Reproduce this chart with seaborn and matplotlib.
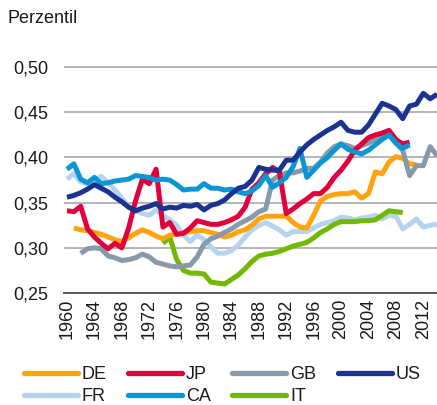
import numpy as np
import pandas as pd
import matplotlib
matplotlib.use("Agg")
import matplotlib.pyplot as plt
import seaborn as sns
from matplotlib.ticker import FuncFormatter, FixedLocator
from matplotlib.lines import Line2D

# ---------------- data ----------------
countries = ["DE", "JP", "GB", "US", "FR", "CA", "IT"]
start_years = {"DE": 1961, "JP": 1960, "GB": 1962, "US": 1960, "FR": 1960, "CA": 1960, "IT": 1974}

de_values = [0.322, 0.320, 0.319, 0.317, 0.315, 0.312, 0.309, 0.307, 0.311,
             0.316, 0.320, 0.317, 0.313, 0.310, 0.314, 0.315, 0.317, 0.318, 0.319,
             0.319, 0.317, 0.315, 0.312, 0.314, 0.318, 0.320, 0.325, 0.332, 0.335,
             0.335, 0.335, 0.335, 0.328, 0.323, 0.322, 0.336, 0.352, 0.357, 0.359,
             0.360, 0.360, 0.362, 0.355, 0.360, 0.384, 0.382, 0.395, 0.401, 0.399,
             0.393, 0.392]
jp_values = [0.341, 0.340, 0.346, 0.321, 0.312, 0.305, 0.299, 0.305, 0.300, 0.322,
             0.352, 0.376, 0.371, 0.387, 0.323, 0.328, 0.315, 0.316, 0.322, 0.330,
             0.328, 0.326, 0.326, 0.328, 0.331, 0.335, 0.345, 0.365, 0.372, 0.382,
             0.389, 0.384, 0.338, 0.343, 0.349, 0.354, 0.360, 0.360, 0.367, 0.378,
             0.386, 0.396, 0.408, 0.415, 0.422, 0.425, 0.427, 0.430, 0.420, 0.415,
             0.417]
gb_values = [0.294, 0.299, 0.300, 0.299, 0.291, 0.289, 0.286, 0.287,
             0.289, 0.293, 0.290, 0.284, 0.282, 0.280, 0.279, 0.280, 0.281, 0.290,
             0.304, 0.310, 0.313, 0.317, 0.321, 0.326, 0.330, 0.334, 0.340, 0.343,
             0.375, 0.380, 0.383, 0.383, 0.385, 0.388, 0.388, 0.395, 0.405, 0.412,
             0.415, 0.413, 0.410, 0.413, 0.416, 0.420, 0.423, 0.425, 0.416, 0.408,
             0.380, 0.391, 0.391, 0.412, 0.402]
us_values = [0.356, 0.358, 0.361, 0.365, 0.370, 0.366, 0.362, 0.356, 0.351, 0.345,
             0.341, 0.344, 0.346, 0.349, 0.343, 0.345, 0.344, 0.347, 0.346, 0.348,
             0.342, 0.347, 0.349, 0.353, 0.360, 0.366, 0.368, 0.375, 0.389, 0.387,
             0.386, 0.386, 0.397, 0.397, 0.406, 0.414, 0.420, 0.425, 0.430, 0.434,
             0.439, 0.430, 0.428, 0.428, 0.436, 0.448, 0.460, 0.457, 0.453, 0.443,
             0.457, 0.459, 0.471, 0.465, 0.470]
fr_values = [0.376, 0.382, 0.373, 0.371, 0.375, 0.379, 0.372, 0.364, 0.355, 0.346,
             0.341, 0.338, 0.336, 0.342, 0.336, 0.331, 0.325, 0.314, 0.307, 0.314,
             0.309, 0.301, 0.294, 0.294, 0.297, 0.303, 0.312, 0.320, 0.325, 0.328,
             0.324, 0.320, 0.314, 0.318, 0.318, 0.318, 0.322, 0.326, 0.328, 0.330,
             0.334, 0.333, 0.331, 0.333, 0.334, 0.336, 0.332, 0.336, 0.335, 0.321,
             0.326, 0.332, 0.323, 0.325, 0.326]
ca_values = [0.387, 0.393, 0.376, 0.372, 0.378, 0.371, 0.372, 0.374, 0.375, 0.376,
             0.380, 0.379, 0.378, 0.375, 0.376, 0.375, 0.370, 0.364, 0.365, 0.365,
             0.371, 0.366, 0.366, 0.364, 0.365, 0.362, 0.360, 0.363, 0.369, 0.380,
             0.367, 0.372, 0.378, 0.390, 0.410, 0.378, 0.386, 0.394, 0.400, 0.408,
             0.415, 0.409, 0.406, 0.404, 0.408, 0.414, 0.420, 0.425, 0.416, 0.410,
             0.414]
it_values = [0.305, 0.312, 0.287, 0.275, 0.272, 0.272,
             0.271, 0.262, 0.261, 0.260, 0.265, 0.270, 0.277, 0.285, 0.291, 0.293,
             0.294, 0.296, 0.299, 0.302, 0.304, 0.306, 0.311, 0.317, 0.321, 0.326,
             0.329, 0.329, 0.329, 0.330, 0.330, 0.331, 0.336, 0.341, 0.340, 0.339]

series = {"DE": de_values, "JP": jp_values, "GB": gb_values, "US": us_values,
          "FR": fr_values, "CA": ca_values, "IT": it_values}

colors = {"DE": "#FFA30F", "JP": "#E2003C", "GB": "#8899A8", "US": "#1C3291",
          "FR": "#B6D4F0", "CA": "#0A96D4", "IT": "#72B800"}

year_ticks = list(range(1960, 2013, 4))
y_ticks = [0.25, 0.30, 0.35, 0.40, 0.45, 0.50]

rows = []
for c in countries:
    vals = series[c]
    for i, v in enumerate(vals):
        rows.append({"Jahr": start_years[c] + i, "Wert": v, "Land": c})
df = pd.DataFrame(rows)

# ---------------- plot ----------------
sns.set_style("white")
plt.rcParams["font.family"] = ["Liberation Sans", "DejaVu Sans"]

fig = plt.figure(figsize=(4.37, 4.05), dpi=100)
ax = fig.add_axes([0.1455, 0.2765, 0.8545, 0.580])

draw_order = ["FR", "IT", "DE", "GB", "JP", "CA", "US"]
sns.lineplot(data=df, x="Jahr", y="Wert", hue="Land", hue_order=draw_order,
             palette=colors, linewidth=3.6, ax=ax, legend=False,
             solid_capstyle="butt", solid_joinstyle="round", estimator=None)

ax.set_xlim(1959.5, 2014.0)
ax.set_ylim(0.25, 0.51)
ax.yaxis.set_major_locator(FixedLocator(y_ticks))
ax.xaxis.set_major_locator(FixedLocator(year_ticks))
ax.yaxis.set_major_formatter(FuncFormatter(lambda v, p: f"{v:.2f}".replace(".", ",")))
ax.grid(axis="y", color="#A8A8A8", linewidth=1.2)
ax.grid(axis="x", visible=False)
ax.set_axisbelow(True)
for s in ["top", "right", "left"]:
    ax.spines[s].set_visible(False)
ax.spines["bottom"].set_color("#5A5A5A")
ax.spines["bottom"].set_linewidth(1.4)
ax.set_xlabel("")
ax.set_ylabel("")
ax.tick_params(axis="y", length=0, pad=11, labelsize=13, labelcolor="#1A1A1A")
ax.tick_params(axis="x", length=0, pad=4, labelsize=13, labelcolor="#1A1A1A", rotation=90)

fig.text(0.018, 0.955, "Perzentil", fontsize=13, color="#1A1A1A", va="center", ha="left")

# legend: row1 DE JP GB US, row2 FR CA IT
leg_order = ["DE", "FR", "JP", "CA", "GB", "IT", "US"]
handles = [Line2D([0], [0], color=colors[c], linewidth=3.8, solid_capstyle="round") for c in leg_order]
fig.legend(handles, leg_order, loc="center", bbox_to_anchor=(0.508, 0.048), ncol=4,
           frameon=False, fontsize=13, handlelength=3.0, handletextpad=0.2,
           columnspacing=1.2, labelspacing=0.3, labelcolor="#1A1A1A")

fig.savefig("out.png", dpi=100)
